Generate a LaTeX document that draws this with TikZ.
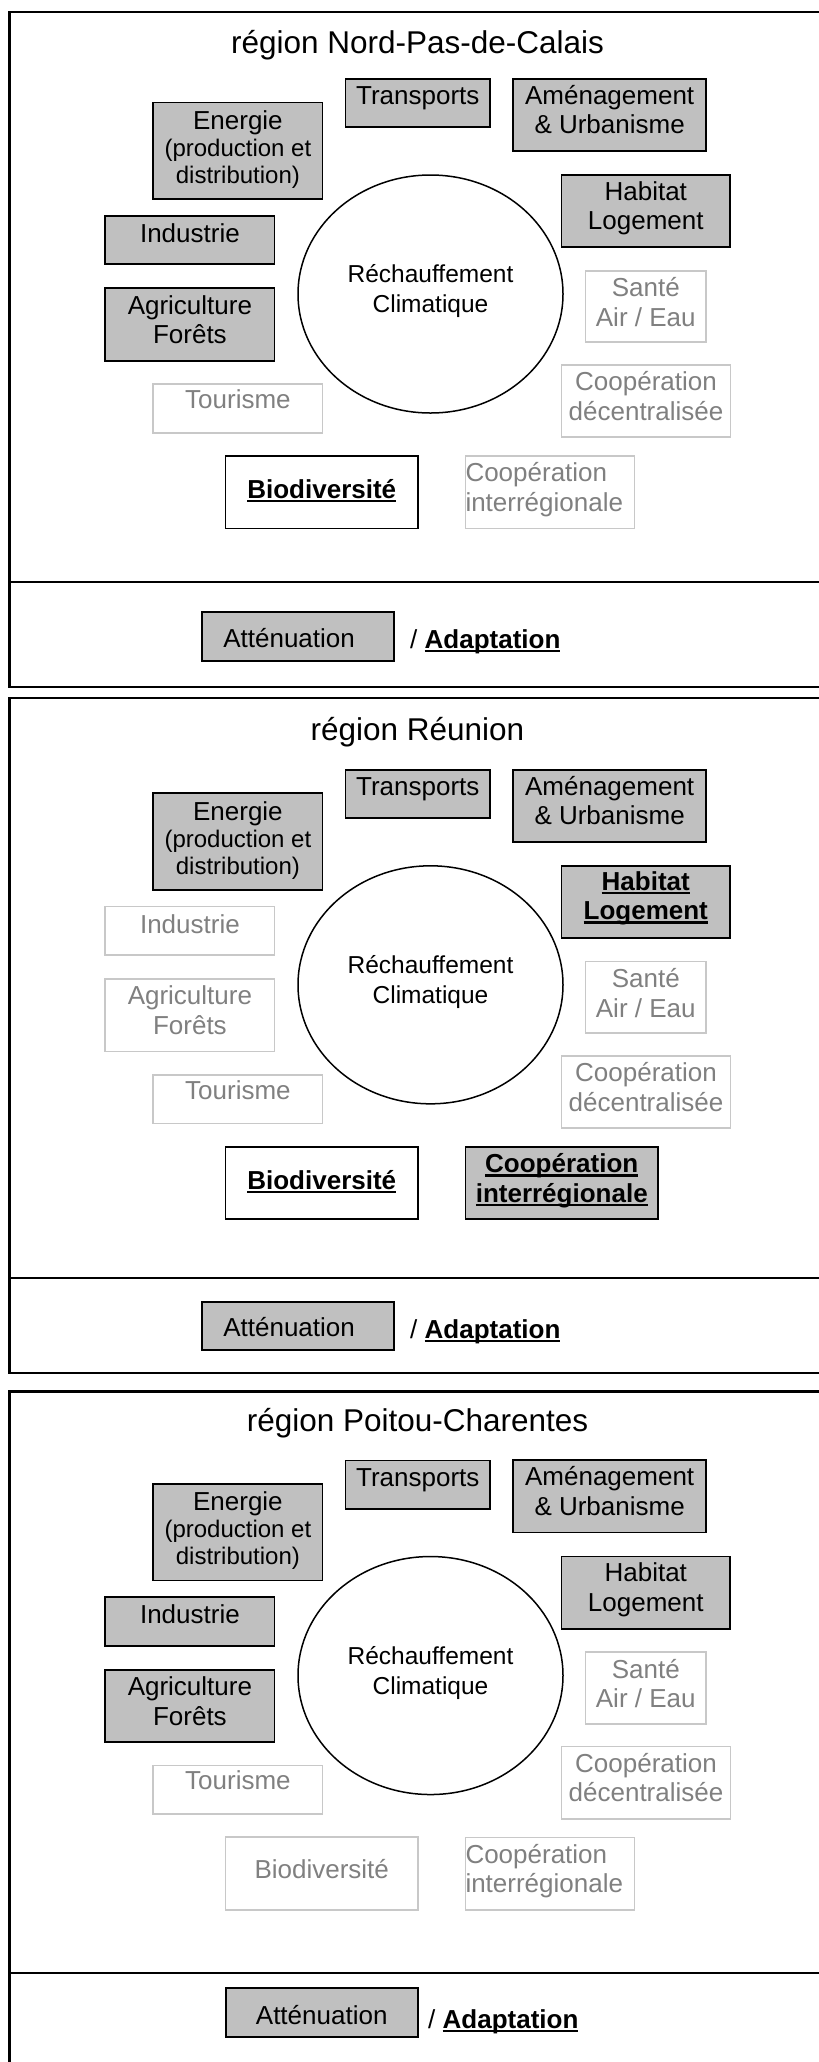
\documentclass[tikz,border=0pt]{standalone}
\usepackage{fontspec}
\setmainfont{Liberation Sans}
\usetikzlibrary{shapes.geometric}
\definecolor{boxgray}{RGB}{192,192,192}
\definecolor{lightline}{RGB}{200,200,200}
\definecolor{lighttext}{RGB}{128,128,128}
\newcommand\boxfont{\fontsize{26bp}{29.5bp}\selectfont}
\newcommand\subfont{\fontsize{24bp}{27bp}\selectfont}
\newcommand\circfont{\fontsize{24.5bp}{30bp}\selectfont}
\newcommand\titlefont{\fontsize{31.5bp}{36bp}\selectfont}
\newsavebox\myulbox
\newcommand\myul[1]{\leavevmode\sbox\myulbox{#1}\rlap{\rule[-4bp]{\wd\myulbox}{2.6bp}}\usebox\myulbox}
\newcommand\tbc[4]{\parbox[c][#2][t]{#1}{\centering\rule{0pt}{#3}#4\par}}
\newcommand\tbl[4]{\parbox[c][#2][t]{#1}{\raggedright\rule{0pt}{#3}#4\par}}
\tikzset{
  boxbase/.style={inner sep=0pt, outer sep=0pt, anchor=north west, line width=1.8bp, font=\boxfont},
  gbox/.style={boxbase, draw=black, fill=boxgray},
  lbox/.style={boxbase, draw=lightline, fill=white, text=lighttext},
  wbox/.style={boxbase, draw=black, fill=white},
  frameline/.style={line width=2.2bp, draw=black},
  circ/.style={draw=black, line width=1.5bp, ellipse, minimum width=265bp, minimum height=238bp, inner sep=0pt},
  circtext/.style={align=center, font=\circfont, inner sep=0pt},
  titlenode/.style={font=\titlefont, anchor=base, inner sep=0pt},
  slashnode/.style={anchor=base west, inner sep=0pt, font=\boxfont},
}
\newcommand\commonpart[1]{%
  \node[circ] (#1circ) at (430.5,294) {};
  \node[circtext] (#1ctext) at ([yshift=2.7bp]#1circ.center) {Réchauffement\\Climatique};
  \node[gbox] (#1trans) at (345.5,79) {\tbc{144.5bp}{48.3bp}{25.5bp}{Transports}};
  \node[gbox] (#1amen) at (513.3,78.8) {\tbc{192.7bp}{72.2bp}{25.5bp}{Aménagement\\\& Urbanisme}};
  \node[gbox] (#1energ) at (153.3,102.5) {\tbc{169.2bp}{96.5bp}{26.8bp}{Energie\par\subfont(production et\\distribution)}};
  \node[lbox] (#1sante) at (585.5,270.7) {\tbc{120.5bp}{71.6bp}{26bp}{Santé\\Air / Eau}};
  \node[lbox] (#1tour) at (153.3,384) {\tbc{169.2bp}{48.7bp}{24.3bp}{Tourisme}};
  \node[lbox] (#1coopd) at (561.5,365) {\tbc{169bp}{72.3bp}{25.7bp}{Coopération\\décentralisée}};
}
\begin{document}
\begin{tikzpicture}[x=1bp,y=-1bp]
\useasboundingbox (0,0) rectangle (819,2062);
\clip (0,0) rectangle (819,2062);
\fill[white] (0,0) rectangle (819,2062);

% ---------- frames ----------
\draw[frameline] (840,11.7) -- (9.4,11.7) -- (9.4,686.7) -- (840,686.7);
\draw[frameline] (9.4,581.7) -- (840,581.7);
\draw[frameline] (840,698.3) -- (9.4,698.3) -- (9.4,1373.3) -- (840,1373.3);
\draw[frameline] (9.4,1277.7) -- (840,1277.7);
\draw[frameline] (840,1391.5) -- (9.4,1391.5) -- (9.4,2090);
\draw[frameline] (9.4,1973.3) -- (840,1973.3);

% ---------- titles ----------
\node[titlenode] (p1title) at (417.5,53.3) {région Nord-Pas-de-Calais};
\node[titlenode] (p2title) at (417.5,740) {région Réunion};
\node[titlenode] (p3title) at (417.5,1431.7) {région Poitou-Charentes};

% ---------- panel 1 ----------
\begin{scope}
\commonpart{p1}
\node[gbox] (p1habit) at (561.5,175) {\tbc{168.5bp}{72.3bp}{25bp}{Habitat\\Logement}};
\node[gbox] (p1indus) at (105.3,215.7) {\tbc{169.2bp}{48.6bp}{26.6bp}{Industrie}};
\node[gbox] (p1agri) at (105.3,288.3) {\tbc{169.2bp}{72.4bp}{25.7bp}{Agriculture\\Forêts}};
\node[wbox] (p1biod) at (225.5,455.8) {\tbc{192.5bp}{72.7bp}{42.6bp}{\myul{\textbf{Biodiversité}}}};
\node[lbox] (p1coopi) at (465.5,456) {\tbl{169bp}{72.5bp}{25.7bp}{Coopération\\interrégionale}};
\end{scope}
\node[gbox] (p1atten) at (201.7,612.3) {\tbl{192.3bp}{48.7bp}{35bp}{\hspace*{21.6bp}Atténuation}};
\node[slashnode] (p1adapt) at (410,648.3) {/ \myul{\textbf{Adaptation}}};

% ---------- panel 2 ----------
\begin{scope}[yshift=-690.8bp]
\commonpart{p2}
\node[gbox] (p2habit) at (561.5,175) {\tbc{168.5bp}{72.3bp}{24.5bp}{\myul{\textbf{Habitat}}\\\myul{\textbf{Logement}}}};
\node[lbox] (p2indus) at (105.3,215.7) {\tbc{169.2bp}{48.6bp}{26.6bp}{Industrie}};
\node[lbox] (p2agri) at (105.3,288.3) {\tbc{169.2bp}{72.4bp}{25.7bp}{Agriculture\\Forêts}};
\node[wbox] (p2biod) at (225.5,455.8) {\tbc{192.5bp}{72.7bp}{42.6bp}{\myul{\textbf{Biodiversité}}}};
\node[gbox] (p2coopi) at (465.5,456) {\tbc{192.5bp}{72.5bp}{26bp}{\myul{\textbf{Coopération}}\\\myul{\textbf{interrégionale}}}};
\end{scope}
\node[gbox] (p2atten) at (201.7,1301.7) {\tbl{192.3bp}{48.6bp}{35bp}{\hspace*{21.6bp}Atténuation}};
\node[slashnode] (p2adapt) at (410,1338.3) {/ \myul{\textbf{Adaptation}}};

% ---------- panel 3 ----------
\begin{scope}[yshift=-1381.5bp]
\commonpart{p3}
\node[gbox] (p3habit) at (561.5,175) {\tbc{168.5bp}{72.3bp}{25bp}{Habitat\\Logement}};
\node[gbox] (p3indus) at (105.3,215.7) {\tbc{169.2bp}{48.6bp}{26.6bp}{Industrie}};
\node[gbox] (p3agri) at (105.3,288.3) {\tbc{169.2bp}{72.4bp}{25.7bp}{Agriculture\\Forêts}};
\node[lbox] (p3biod) at (225.5,455.8) {\tbc{192.5bp}{72.7bp}{41bp}{Biodiversité}};
\node[lbox] (p3coopi) at (465.5,456) {\tbl{169bp}{72.5bp}{25.7bp}{Coopération\\interrégionale}};
\end{scope}
\node[gbox] (p3atten) at (225.6,1988.3) {\tbc{192.2bp}{48.7bp}{35.7bp}{Atténuation}};
\node[slashnode] (p3adapt) at (428,2028.3) {/ \myul{\textbf{Adaptation}}};
\end{tikzpicture}
\end{document}
